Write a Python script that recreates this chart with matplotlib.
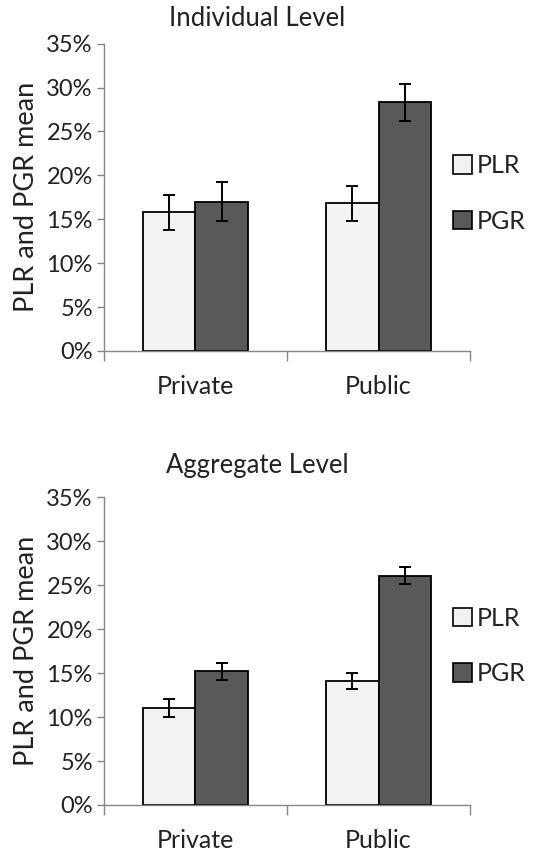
import numpy as np
import matplotlib
matplotlib.use('Agg')
import matplotlib.pyplot as plt
from matplotlib.patches import Patch
from matplotlib.ticker import FuncFormatter

plt.rcParams['font.family'] = ['Lato', 'DejaVu Sans']

categories = ['Private', 'Public']
series = ['PLR', 'PGR']
colors = ['#f2f2f2', '#595959']

# values in percent
ind_plr = [15.8, 16.8]
ind_plr_err = [2.0, 1.95]
ind_pgr = [17.0, 28.3]
ind_pgr_err = [2.2, 2.1]

agg_plr = [11.0, 14.1]
agg_plr_err = [1.0, 0.95]
agg_pgr = [15.2, 26.1]
agg_pgr_err = [0.95, 1.0]

titles = ['Individual Level', 'Aggregate Level']
yticks = [0, 5, 10, 15, 20, 25, 30, 35]

fig = plt.figure(figsize=(5.45, 8.56), dpi=100)

panels = [
    (ind_plr, ind_plr_err, ind_pgr, ind_pgr_err),
    (agg_plr, agg_plr_err, agg_pgr, agg_pgr_err),
]
axes_pos = [[0.1908, 0.5900, 0.6716, 0.359],
            [0.1908, 0.0596, 0.6716, 0.3595]]
title_y = [1 - 18/856, 1 - 465/856]
legend_y = [0.774, 0.2453]

w = 0.287
x = np.arange(len(categories))
grey = '#868686'
txt = '#222222'

for i, (plr, plr_e, pgr, pgr_e) in enumerate(panels):
    ax = fig.add_axes(axes_pos[i])
    ax.bar(x - w/2, plr, w, yerr=plr_e, color=colors[0], edgecolor='black',
           linewidth=1.3, capsize=4, error_kw=dict(elinewidth=1.4, capthick=1.4, ecolor='black'))
    ax.bar(x + w/2, pgr, w, yerr=pgr_e, color=colors[1], edgecolor='black',
           linewidth=1.3, capsize=4, error_kw=dict(elinewidth=1.4, capthick=1.4, ecolor='black'))
    ax.set_xlim(-0.5, 1.5)
    ax.set_ylim(0, 35)
    ax.set_yticks(yticks)
    ax.yaxis.set_major_formatter(FuncFormatter(lambda v, p: '%d%%' % v))
    ax.set_xticks([-0.5, 0.5, 1.5])
    ax.set_xticklabels([])
    ax.set_xticks(x, minor=True)
    ax.set_xticklabels(categories, minor=True)
    ax.tick_params(axis='x', which='major', length=7, width=1, color=grey, direction='out')
    ax.tick_params(axis='x', which='minor', length=0, pad=17, labelsize=18, labelcolor=txt)
    ax.tick_params(axis='y', length=5, width=1, color=grey, labelsize=17, labelcolor=txt, pad=3)
    for s in ['top', 'right']:
        ax.spines[s].set_visible(False)
    for s in ['left', 'bottom']:
        ax.spines[s].set_color(grey)
        ax.spines[s].set_linewidth(1)
    ax.set_ylabel('PLR and PGR mean', fontsize=19.5, color=txt, labelpad=5)
    fig.text(0.472, title_y[i], titles[i], ha='center', va='center', fontsize=18.5, color=txt)
    handles = [Patch(facecolor=colors[k], edgecolor='black', linewidth=1.2) for k in range(2)]
    fig.legend(handles, series, loc='center left', bbox_to_anchor=(0.79, legend_y[i]),
               frameon=False, fontsize=18, handlelength=0.75, handleheight=0.75,
               handletextpad=0.2, labelspacing=1.3, labelcolor=txt)

fig.savefig('out.png', dpi=100)
